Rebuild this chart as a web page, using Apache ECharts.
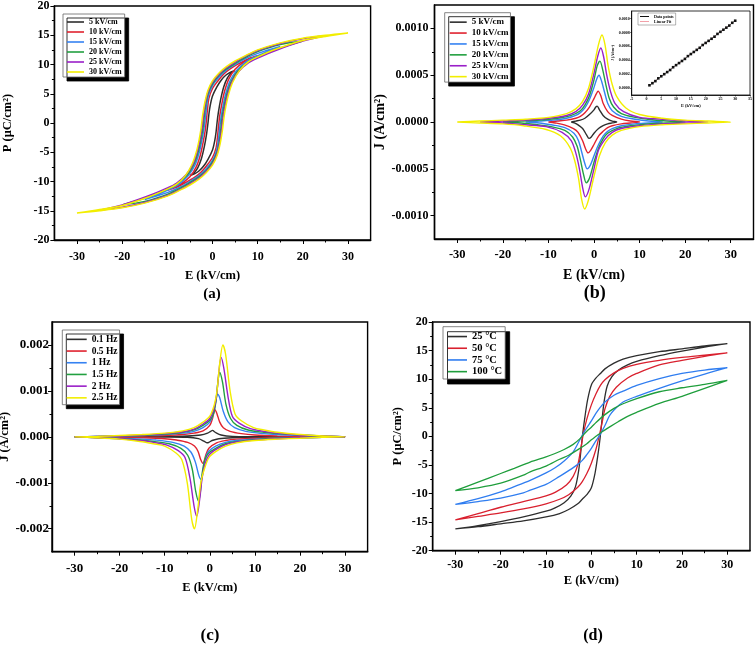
<!DOCTYPE html>
<html><head><meta charset="utf-8">
<script src="https://cdn.jsdelivr.net/npm/echarts@6/dist/echarts.min.js"></script>
<style>html,body{margin:0;padding:0;background:#fff}#c{width:756px;height:645px}</style>
</head><body><div id="c"></div>
<script>
// ---------------- DATA ----------------
// Panel (a): P-E loops, field amplitude
const namesA = ['5 kV/cm','10 kV/cm','15 kV/cm','20 kV/cm','25 kV/cm','30 kV/cm'];
const loopA5 = [[5,9.0],[4,8.7],[3,8.2],[2,7.4],[1,6.2],[0,4.6],[-0.5,3.0],[-0.8,1.5],[-1.0,0],[-1.3,-1.8],[-1.8,-4],[-2.5,-6.2],[-3.3,-7.7],[-4.1,-8.5],[-5,-9.0],
  [-4,-8.7],[-3,-8.2],[-2,-7.4],[-1,-6.2],[0,-4.6],[0.5,-3.0],[0.8,-1.5],[1.0,0],[1.3,1.8],[1.8,4],[2.5,6.2],[3.3,7.7],[4.1,8.5],[5,9.0]];
const loopA10 = [[10,11.5],[8,11.0],[6,10.2],[4,9.3],[2.5,8.4],[1,7.0],[0,5.9],[-0.8,4.2],[-1.1,2.4],[-1.35,0.5],[-1.6,-1.2],[-2.1,-3.4],[-2.7,-5.5],[-3.6,-7.5],[-5,-9.2],[-7,-10.4],[-10,-11.5],
  [-8,-11.0],[-6,-10.2],[-4,-9.3],[-2.5,-8.4],[-1,-7.0],[0,-5.9],[0.8,-4.2],[1.1,-2.4],[1.35,-0.5],[1.6,1.2],[2.1,3.4],[2.7,5.5],[3.6,7.5],[5,9.2],[7,10.4],[10,11.5]];
const loopA15 = [[15,13.1],[10,11.9],[7,10.9],[5,10.0],[3,9.0],[1.5,7.9],[0,6.4],[-0.9,4.7],[-1.3,2.9],[-1.6,0.8],[-1.9,-1],[-2.4,-3.2],[-3,-5.2],[-3.9,-7.2],[-5.4,-9],[-7.5,-10.5],[-10,-11.5],[-15,-13.1],
  [-10,-11.9],[-7,-10.9],[-5,-10.0],[-3,-9.0],[-1.5,-7.9],[0,-6.4],[0.9,-4.7],[1.3,-2.9],[1.6,-0.8],[1.9,1],[2.4,3.2],[3,5.2],[3.9,7.2],[5.4,9],[7.5,10.5],[10,11.5],[15,13.1]];
const loopA20 = [[20,14.0],[15,13.4],[10,12.2],[7,11.1],[5,10.2],[3,9.2],[1.5,8.2],[0,6.7],[-1,5.0],[-1.5,3.1],[-1.85,1.0],[-2.1,-0.8],[-2.6,-3],[-3.2,-5],[-4.1,-7],[-5.6,-8.9],[-8,-10.5],[-10,-11.3],[-14,-12.6],[-20,-14.0],
  [-15,-13.4],[-10,-12.2],[-7,-11.1],[-5,-10.2],[-3,-9.2],[-1.5,-8.2],[0,-6.7],[1,-5.0],[1.5,-3.1],[1.85,-1.0],[2.1,0.8],[2.6,3],[3.2,5],[4.1,7],[5.6,8.9],[8,10.5],[10,11.3],[14,12.6],[20,14.0]];
const loopA25 = [[25,14.9],[20,14.4],[15,13.6],[10,12.4],[7,11.3],[5,10.4],[3,9.4],[1.5,8.4],[0,7.0],[-1,5.3],[-1.6,3.3],[-2.0,1.2],[-2.3,-0.8],[-2.8,-3],[-3.4,-5],[-4.3,-7],[-5.8,-8.8],[-8,-10.3],[-10,-11.1],[-14,-12.4],[-20,-14.0],[-25,-14.9],
  [-20,-14.4],[-15,-13.6],[-10,-12.4],[-7,-11.3],[-5,-10.4],[-3,-9.4],[-1.5,-8.4],[0,-7.0],[1,-5.3],[1.6,-3.3],[2.0,-1.2],[2.3,0.8],[2.8,3],[3.4,5],[4.3,7],[5.8,8.8],[8,10.3],[10,11.1],[14,12.4],[20,14.0],[25,14.9]];
const loopA30 = [[30,15.4],[25,15.0],[20,14.5],[15,13.7],[10,12.5],[7,11.4],[5,10.6],[3,9.6],[1.5,8.6],[0,7.2],[-1,5.6],[-1.7,3.5],[-2.2,1.2],[-2.55,-1],[-3,-3],[-3.6,-5],[-4.5,-7],[-6,-9.0],[-8,-10.5],[-10,-11.3],[-14,-12.6],[-20,-14.1],[-25,-14.8],[-30,-15.4],
  [-25,-15.0],[-20,-14.5],[-15,-13.7],[-10,-12.5],[-7,-11.4],[-5,-10.6],[-3,-9.6],[-1.5,-8.6],[0,-7.2],[1,-5.6],[1.7,-3.5],[2.2,-1.2],[2.55,1],[3,3],[3.6,5],[4.5,7],[6,9.0],[8,10.5],[10,11.3],[14,12.6],[20,14.1],[25,14.8],[30,15.4]];

// Panel (b): J-E loops, field amplitude
const namesB = namesA;
const loopB5 = [[-5,0],[-4,0.00001],[-3,0.00002],[-2,0.00004],[-1,0.00008],[0,0.00013],[0.4,0.00016],[0.7,0.00017],[1.2,0.00013],[2,0.00007],[3,0.00003],[4,0.00001],[5,0],
  [4,-0.00001],[3,-0.00002],[2,-0.00004],[1,-0.00007],[0,-0.00012],[-0.6,-0.00016],[-1.1,-0.000175],[-1.6,-0.00014],[-2.5,-0.00007],[-3.5,-0.00003],[-4.3,-0.00001],[-5,0]];
const loopB10 = [[-10,0],[-8,0.00001],[-6,0.00002],[-4,0.00004],[-3,0.00006],[-2,0.0001],[-1,0.00016],[0,0.00025],[0.5,0.0003],[0.9,0.00033],[1.5,0.00028],[2,0.0002],[3,0.00011],[4,0.00007],[6,0.00003],[8,0.00001],[10,0],
  [8,-0.00001],[6,-0.00002],[4,-0.00004],[3,-0.00006],[2,-0.0001],[1,-0.00015],[0,-0.00024],[-0.7,-0.0003],[-1.3,-0.00033],[-1.9,-0.00028],[-2.5,-0.0002],[-3.5,-0.00011],[-4.5,-0.00007],[-6.5,-0.00003],[-8.5,-0.00001],[-10,0]];
const loopB15 = [[-15,0],[-12,0.00001],[-9,0.00002],[-6,0.00004],[-4,0.00007],[-3,0.0001],[-2,0.00015],[-1,0.00024],[0,0.00037],[0.6,0.00046],[1.1,0.0005],[1.7,0.00043],[2.3,0.00032],[3,0.0002],[4,0.00012],[6,0.00006],[9,0.00003],[12,0.00001],[15,0],
  [12,-0.00001],[9,-0.00002],[6,-0.00004],[4,-0.00007],[3,-0.0001],[2,-0.00015],[1,-0.00024],[0,-0.00036],[-0.8,-0.00046],[-1.5,-0.0005],[-2.1,-0.00043],[-2.7,-0.00032],[-3.4,-0.0002],[-4.4,-0.00012],[-6.4,-0.00006],[-9.4,-0.00003],[-12,-0.00001],[-15,0]];
const loopB20 = [[-20,0],[-16,0.00001],[-12,0.00002],[-8,0.00004],[-5,0.00007],[-3,0.00012],[-2,0.00018],[-1,0.00028],[0,0.00045],[0.7,0.0006],[1.3,0.00065],[1.9,0.00056],[2.6,0.0004],[3.3,0.00026],[4.3,0.00016],[6,0.00009],[9,0.00005],[12,0.00003],[16,0.00001],[20,0],
  [16,-0.00001],[12,-0.00002],[8,-0.00004],[5,-0.00007],[3,-0.00012],[2,-0.00018],[1,-0.00028],[0,-0.00043],[-1,-0.0006],[-1.7,-0.00065],[-2.3,-0.00056],[-3,-0.0004],[-3.7,-0.00026],[-4.7,-0.00016],[-6.4,-0.00009],[-9.4,-0.00005],[-12.4,-0.00003],[-16,-0.00001],[-20,0]];
const loopB25 = [[-25,0],[-20,0.00001],[-15,0.00002],[-10,0.00004],[-6,0.00007],[-4,0.00011],[-2.5,0.00018],[-1.2,0.0003],[0,0.00052],[0.8,0.0007],[1.5,0.00079],[2.1,0.0007],[2.8,0.0005],[3.6,0.00033],[4.6,0.0002],[6.5,0.00011],[10,0.00005],[15,0.00003],[20,0.00001],[25,0],
  [20,-0.00001],[15,-0.00002],[10,-0.00004],[6,-0.00007],[4,-0.00011],[2.5,-0.00018],[1,-0.0003],[0,-0.0005],[-1.1,-0.00072],[-1.9,-0.0008],[-2.5,-0.0007],[-3.2,-0.0005],[-4,-0.00033],[-5,-0.0002],[-7,-0.00011],[-10.5,-0.00005],[-15,-0.00003],[-20,-0.00001],[-25,0]];
const loopB30 = [[-30,0],[-25,0.00001],[-20,0.00002],[-15,0.00003],[-10,0.00005],[-6,0.00009],[-4,0.00014],[-2.5,0.00022],[-1.2,0.00036],[0,0.0006],[1,0.00083],[1.75,0.00093],[2.4,0.00083],[3.1,0.0006],[4,0.0004],[5,0.00027],[7,0.00015],[10,0.00008],[15,0.00004],[20,0.00002],[25,0.00001],[30,0],
  [25,-0.00001],[20,-0.00002],[15,-0.00003],[10,-0.00005],[6,-0.00009],[4,-0.00014],[2.5,-0.00022],[1.2,-0.00036],[0,-0.00058],[-1.2,-0.00083],[-2.05,-0.00093],[-2.7,-0.00083],[-3.4,-0.0006],[-4.3,-0.0004],[-5.3,-0.00027],[-7.3,-0.00015],[-10.5,-0.00008],[-15.5,-0.00004],[-20,-0.00002],[-25,-0.00001],[-30,0]];

// Inset of (b): peak current density vs field
const insetE = [1,2,3,4,5,6,7,8,9,10,11,12,13,14,15,16,17,18,19,20,21,22,23,24,25,26,27,28,29,30];
const insetJ = [0.00004,0.00007,0.00010,0.00014,0.00017,0.00020,0.00023,0.00026,0.00030,0.00033,0.00036,0.00039,0.00042,0.00046,0.00049,0.00052,0.00055,0.00058,0.00062,0.00065,0.00068,0.00071,0.00074,0.00078,0.00081,0.00084,0.00087,0.00090,0.00094,0.00097];
const insetFit = [[1,0.00004],[30,0.00097]];

// Panel (c): J-E loops, frequency
const namesC = ['0.1 Hz','0.5 Hz','1 Hz','1.5 Hz','2 Hz','2.5 Hz'];
const loopC01 = [[-30,0],[-20,0.000005],[-10,0.00001],[-5,0.00002],[-2,0.00004],[-0.5,0.00008],[0.2,0.00012],[0.6,0.00014],[1.2,0.0001],[2.5,0.00004],[5,0.00001],[10,0.000005],[20,0],[30,0],
  [20,-0.000005],[10,-0.00001],[5,-0.00002],[2,-0.00004],[0.5,-0.00008],[-0.2,-0.00012],[-0.6,-0.00013],[-1.2,-0.0001],[-2.5,-0.00004],[-5,-0.00001],[-10,-0.000005],[-20,0],[-30,0]];
const loopC05 = [[-30,0],[-20,0.00001],[-15,0.00002],[-10,0.00003],[-6,0.00005],[-3.5,0.00008],[-1.5,0.00013],[0,0.00025],[0.6,0.0004],[1.15,0.00059],[1.6,0.0005],[2.2,0.00032],[3,0.0002],[4.5,0.00012],[7,0.00007],[10,0.00004],[15,0.00002],[20,0.00001],[30,0],
  [20,-0.00001],[15,-0.00002],[10,-0.00003],[6,-0.00005],[3.5,-0.00008],[1.5,-0.00013],[-0.2,-0.00025],[-0.9,-0.0004],[-1.5,-0.00058],[-2,-0.0005],[-2.6,-0.00032],[-3.4,-0.0002],[-4.9,-0.00012],[-7.4,-0.00007],[-10,-0.00004],[-15,-0.00002],[-20,-0.00001],[-30,0]];
const loopC1 = [[-30,0],[-25,0.00001],[-20,0.00002],[-15,0.00003],[-10,0.00005],[-6,0.00008],[-3.5,0.00012],[-1.5,0.0002],[0,0.00032],[0.8,0.0005],[1.3,0.00075],[1.7,0.00093],[2.2,0.00085],[3,0.00055],[4,0.00033],[5.5,0.0002],[8,0.00012],[12,0.00007],[15,0.00005],[20,0.00003],[25,0.00001],[30,0],
  [25,-0.00001],[20,-0.00002],[15,-0.00003],[10,-0.00005],[6,-0.00008],[3.5,-0.00012],[1.3,-0.0002],[-0.3,-0.00032],[-1.1,-0.0005],[-1.5,-0.00075],[-1.9,-0.00093],[-2.4,-0.00085],[-3.2,-0.00055],[-4.2,-0.00033],[-5.7,-0.0002],[-8.2,-0.00012],[-12,-0.00007],[-15,-0.00005],[-20,-0.00003],[-25,-0.00001],[-30,0]];
const loopC15 = [[-30,0],[-25,0.00001],[-20,0.00002],[-15,0.00003],[-10,0.00006],[-6,0.0001],[-3.5,0.00015],[-1.5,0.00025],[0,0.00036],[0.8,0.0005],[1.4,0.0008],[1.8,0.0012],[2.2,0.0014],[2.8,0.0012],[3.6,0.0007],[4.6,0.0004],[6,0.00025],[8.5,0.00015],[12,0.0001],[15,0.00007],[20,0.00004],[25,0.00002],[30,0],
  [25,-0.00001],[20,-0.00002],[15,-0.00003],[10,-0.00006],[6,-0.0001],[3.5,-0.00015],[1.3,-0.00025],[-0.3,-0.00036],[-1.1,-0.0005],[-1.7,-0.0008],[-2.1,-0.0012],[-2.5,-0.0014],[-3.1,-0.0012],[-3.9,-0.0007],[-4.9,-0.0004],[-6.4,-0.00025],[-9,-0.00015],[-12.5,-0.0001],[-15.5,-0.00007],[-20,-0.00004],[-25,-0.00002],[-30,0]];
const loopC2 = [[-30,0],[-25,0.00001],[-20,0.00002],[-15,0.00004],[-10,0.00007],[-6,0.00011],[-3.5,0.00017],[-1.5,0.00028],[0,0.0004],[0.9,0.0006],[1.5,0.0009],[2,0.0014],[2.5,0.00173],[3.1,0.0015],[4,0.0009],[5,0.00045],[6.5,0.0003],[9,0.00018],[12,0.00012],[15,0.00008],[20,0.00004],[25,0.00002],[30,0],
  [25,-0.00001],[20,-0.00002],[15,-0.00004],[10,-0.00007],[6,-0.00011],[3.5,-0.00017],[1.3,-0.00028],[-0.2,-0.0004],[-1.1,-0.0006],[-1.7,-0.0009],[-2.3,-0.0014],[-2.9,-0.00173],[-3.5,-0.0015],[-4.4,-0.0009],[-5.5,-0.00045],[-7,-0.0003],[-9.5,-0.00018],[-12.5,-0.00012],[-15.5,-0.00008],[-20,-0.00004],[-25,-0.00002],[-30,0]];
const loopC25 = [[-30,0],[-25,0.00001],[-20,0.00003],[-15,0.00005],[-10,0.00008],[-6,0.00013],[-3.5,0.0002],[-1.5,0.00032],[0,0.00045],[1,0.0007],[1.6,0.001],[2.2,0.0016],[2.9,0.002],[3.5,0.0018],[4.5,0.001],[5.6,0.0005],[7,0.00035],[9.7,0.0002],[12,0.00015],[15,0.0001],[20,0.00005],[25,0.00002],[30,0],
  [25,-0.00001],[20,-0.00003],[15,-0.00005],[10,-0.00008],[6,-0.00013],[3.5,-0.0002],[1.3,-0.00032],[-0.2,-0.00045],[-1.2,-0.0007],[-2,-0.001],[-2.7,-0.0016],[-3.4,-0.002],[-4,-0.0018],[-5,-0.001],[-6.2,-0.0005],[-7.5,-0.00035],[-10,-0.0002],[-12.5,-0.00015],[-15.5,-0.0001],[-20,-0.00005],[-25,-0.00002],[-30,0]];

// Panel (d): P-E loops, temperature
const namesD = ['25 °C','50 °C','75 °C','100 °C'];
const loopD25 = [[30,16.2],[25,15.8],[20,15.3],[15,14.8],[10,14.1],[7,13.5],[5,12.8],[3,11.8],[2,11.0],[1,10.2],[0,9.0],[-0.8,6.5],[-1.4,3.5],[-1.9,0.5],[-2.3,-2.5],[-2.8,-6],[-3.5,-8.8],[-4.5,-10.4],[-6,-11.6],[-8,-12.5],[-10,-13.1],[-15,-14.1],[-20,-14.9],[-25,-15.6],[-30,-16.2],
  [-25,-15.8],[-20,-15.3],[-15,-14.8],[-10,-14.1],[-7,-13.5],[-5,-12.8],[-3,-11.8],[-2,-11.0],[-1,-10.2],[0,-9.0],[0.8,-6.5],[1.4,-3.5],[1.9,-0.5],[2.3,2.5],[2.8,6],[3.5,8.8],[4.5,10.4],[6,11.6],[8,12.5],[10,13.1],[15,14.1],[20,14.9],[25,15.6],[30,16.2]];
const loopD50 = [[30,14.6],[25,14.2],[20,13.8],[15,13.3],[10,12.6],[7,11.9],[5,11.1],[3,9.9],[2,8.9],[1,7.4],[0,5.5],[-1,3.0],[-1.8,0.3],[-2.4,-2.5],[-3,-5],[-4,-7],[-5.5,-8.5],[-8,-9.8],[-10,-10.4],[-15,-11.4],[-20,-12.4],[-25,-13.5],[-30,-14.6],
  [-25,-14.0],[-20,-13.4],[-15,-12.7],[-10,-11.8],[-7,-11.0],[-5,-10.2],[-3,-8.9],[-2,-7.9],[-1,-6.5],[0,-4.7],[1,-2.3],[1.8,0.3],[2.4,2.5],[3,4.8],[4,6.9],[5.5,8.6],[8,10.2],[10,11.0],[15,12.5],[20,13.3],[25,14.0],[30,14.6]];
const loopD75 = [[30,12.0],[25,11.6],[20,11.0],[15,10.1],[10,8.9],[7,7.9],[5,7.2],[3,6.0],[2,5.1],[1,4.0],[0,2.7],[-1,1.5],[-2,0.2],[-3,-1.3],[-4,-2.7],[-6,-4.3],[-8,-5.5],[-10,-6.4],[-13.5,-7.7],[-17,-8.8],[-20,-9.7],[-25,-10.9],[-30,-11.9],
  [-25,-11.4],[-20,-10.8],[-15,-9.9],[-13.5,-9.4],[-10,-8.4],[-7,-7.0],[-5,-6.0],[-3,-4.9],[-2,-4.2],[-1,-3.2],[0,-2.1],[1,-0.8],[2,0.4],[3,1.9],[4,3.6],[5,4.6],[7,6.0],[10,7.0],[15,8.4],[20,9.7],[25,10.9],[30,12.0]];
const loopD100 = [[30,9.8],[25,9.1],[20,8.5],[15,7.8],[10,6.6],[7,5.7],[5,4.9],[3,3.8],[1,2.4],[0,1.6],[-1,0.9],[-2.5,-0.4],[-4,-1.4],[-6,-2.3],[-8,-3.0],[-10,-3.6],[-13.5,-4.5],[-17,-5.6],[-20,-6.5],[-25,-8.0],[-30,-9.5],
  [-25,-9.0],[-20,-8.2],[-15,-6.8],[-13.5,-6.2],[-10,-5.2],[-7,-4.0],[-5,-3.3],[-2.5,-2.1],[-1,-1.3],[0,-0.6],[1,0],[2,0.6],[4.15,1.7],[6,2.6],[8,3.5],[10,4.2],[15,5.75],[20,7.0],[25,8.4],[30,9.8]];

// Tick values
const eTicks = [-30,-20,-10,0,10,20,30];
const eMinor = [-25,-15,-5,5,15,25];
const pTicks = [-20,-15,-10,-5,0,5,10,15,20];
const pMinor = [-17.5,-12.5,-7.5,-2.5,2.5,7.5,12.5,17.5];
const jbTicks = [-0.001,-0.0005,0,0.0005,0.001];
const jbMinor = [-0.00075,-0.00025,0.00025,0.00075];
const jcTicks = [-0.002,-0.001,0,0.001,0.002];
const jcMinor = [-0.0015,-0.0005,0.0005,0.0015];
const inEticks = [-5,0,5,10,15,20,25,30,35];
const inJticks = [0,0.0002,0.0004,0.0006,0.0008,0.001];

// ---------------- STYLE / BUILD ----------------
const FONT = '"Liberation Serif","Times New Roman",serif';
const COL = {k:'#2e2e2e', r:'#e0222f', b:'#3582f2', g:'#22a040', p:'#9a1fc8', y:'#f2ee00'};
const colors6 = [COL.k, COL.r, COL.b, COL.g, COL.p, COL.y];
const colorsD = [COL.k, '#d9202e', '#2f7df0', '#1f9e3c'];

function txt(size, extra) { return Object.assign({fontFamily:FONT, fontWeight:'bold', fontSize:size, color:'#000'}, extra||{}); }

function axisPair(dim, gi, o) {
  const main = {
    type:'value', gridIndex:gi, min:o.min, max:o.max, position: dim==='x'?'bottom':'left',
    axisLine:{show:true, onZero:false, lineStyle:{color:'#000', width:o.lw||1.4}},
    axisTick:{show:true, inside:false, length:o.tl||4, customValues:o.major, lineStyle:{color:'#000', width:o.tw||1}},
    axisLabel:{show:true, customValues:o.major, margin:o.margin, formatter:o.fmt, fontFamily:FONT, fontWeight:'bold', fontSize:o.fs, color:'#000'},
    splitLine:{show:false}, minorTick:{show:false},
    name:o.name, nameLocation:'middle', nameGap:o.nameGap, nameTextStyle:txt(o.nfs),
    nameRotate: dim==='y'?90:0
  };
  const minor = {
    type:'value', gridIndex:gi, min:o.min, max:o.max, position: dim==='x'?'bottom':'left',
    axisLine:{show:false, onZero:false},
    axisTick:{show:!!o.minor, inside:false, length:o.tl2||2.5, customValues:o.minor||[], lineStyle:{color:'#000', width:o.tw||1}},
    axisLabel:{show:false}, splitLine:{show:false}
  };
  return [main, minor];
}

const intFmt = v => String(v);
const f4 = v => (Math.abs(v)<1e-12?0:v).toFixed(4);
const f3 = v => (Math.abs(v)<1e-12?0:v).toFixed(3);

const grids = [
  {left:54.4, top:6, width:316.2, height:234},
  {left:434.5, top:5, width:319, height:234},
  {left:52, top:322, width:315.6, height:229.7},
  {left:432.7, top:322, width:317.3, height:228.7},
  {left:631.7, top:11, width:118.3, height:84}
].map(g => Object.assign({show:true, borderColor:'#000', borderWidth:1.4, backgroundColor:'rgba(0,0,0,0)', containLabel:false, outerBoundsMode:'none'}, g));
grids[4].backgroundColor = '#fff';
grids[4].borderWidth = 0.8;

const xAxes = [].concat(
  axisPair('x',0,{min:-35,max:35,major:eTicks,minor:eMinor,fmt:intFmt,fs:12,margin:11,name:'E (kV/cm)',nameGap:29,nfs:12.5}),
  axisPair('x',1,{min:-35,max:35,major:eTicks,minor:eMinor,fmt:intFmt,fs:12.5,margin:9,name:'E (kV/cm)',nameGap:29,nfs:14}),
  axisPair('x',2,{min:-35,max:35,major:eTicks,minor:eMinor,fmt:intFmt,fs:13,margin:10,name:'E (kV/cm)',nameGap:30,nfs:12.5}),
  axisPair('x',3,{min:-35,max:35,major:eTicks,minor:eMinor,fmt:intFmt,fs:12,margin:8,name:'E (kV/cm)',nameGap:24,nfs:12.5}),
  axisPair('x',4,{min:-5,max:35,major:inEticks,fmt:intFmt,fs:4,margin:2,tl:1.5,lw:0.8,tw:0.6,name:'E (kV/cm)',nameGap:8,nfs:4.5})
);
const yAxes = [].concat(
  axisPair('y',0,{min:-20,max:20,major:pTicks,minor:pMinor,fmt:intFmt,fs:12,margin:5,name:'P (μC/cm²)',nameGap:40,nfs:12.5}),
  axisPair('y',1,{min:-0.00125,max:0.00125,major:jbTicks,minor:jbMinor,fmt:f4,fs:12,margin:6,name:'J (A/cm²)',nameGap:44,nfs:14}),
  axisPair('y',2,{min:-0.0025,max:0.0025,major:jcTicks,minor:jcMinor,fmt:f3,fs:13,margin:3,name:'J (A/cm²)',nameGap:40,nfs:12.5}),
  axisPair('y',3,{min:-20,max:20,major:pTicks,minor:pMinor,fmt:intFmt,fs:12,margin:5,name:'P (μC/cm²)',nameGap:28,nfs:12.5}),
  axisPair('y',4,{min:-0.0001,max:0.00111,major:inJticks,fmt:f4,fs:4,margin:2,tl:1.5,lw:0.8,tw:0.6,name:'J (A/cm²)',nameGap:15,nfs:4})
);

function loop(name, data, gi, color, w) {
  return {type:'line', name:name, data:data, xAxisIndex:2*gi, yAxisIndex:2*gi, symbol:'none', smooth:0.3,
    lineStyle:{color:color, width:w||1.4}, itemStyle:{color:color}, emphasis:{disabled:true}};
}

const series = [];
[loopA5,loopA10,loopA15,loopA20,loopA25,loopA30].forEach((d,i)=>series.push(loop(namesA[i], d, 0, colors6[i], 1.5)));
[loopB5,loopB10,loopB15,loopB20,loopB25,loopB30].forEach((d,i)=>series.push(loop(namesB[i], d, 1, colors6[i], 1.4)));
[loopC01,loopC05,loopC1,loopC15,loopC2,loopC25].forEach((d,i)=>series.push(loop(namesC[i], d, 2, colors6[i], 1.4)));
[loopD25,loopD50,loopD75,loopD100].forEach((d,i)=>series.push(loop(namesD[i], d, 3, colorsD[i], 1.3)));
series.push({type:'line', name:'Data points', data:insetE.map((e,i)=>[e, insetJ[i]]), xAxisIndex:8, yAxisIndex:8,
  symbol:'rect', symbolSize:2.6, lineStyle:{color:'#000', width:0.5}, itemStyle:{color:'#111'}, z:5});
series.push({type:'line', name:'Linear Fit', data:insetFit, xAxisIndex:8, yAxisIndex:8, symbol:'none',
  lineStyle:{color:'#f2a0a8', width:0.8, type:'dotted'}, itemStyle:{color:'#f2a0a8'}, z:4});

function legendBox(o, lh) {
  const b = Object.assign({orient:'vertical', backgroundColor:'#fff', borderColor:'#666', borderWidth:0.8,
    shadowColor:'rgba(0,0,0,1)', shadowBlur:0, shadowOffsetX:4, shadowOffsetY:4, selectedMode:false,
    icon:'rect', itemHeight:1.6, itemGap:0}, o);
  b.textStyle = Object.assign({}, b.textStyle, {lineHeight:lh, height:lh});
  return b;
}
const legends = [
  legendBox({data:namesA, left:63, top:14, itemWidth:17, padding:[3,3,0,4], textStyle:txt(8)}, 10),
  legendBox({data:namesB, left:444.7, top:12.7, itemWidth:17, padding:[4,2,0,5], textStyle:txt(9)}, 10.9),
  legendBox({data:namesC, left:62.3, top:330, itemWidth:20, padding:[3.5,2,1,4.4], textStyle:txt(9.5)}, 11.7),
  legendBox({data:namesD, left:443, top:326.7, itemWidth:19, padding:[4,3,1.5,5], textStyle:txt(10.5), shadowOffsetX:4.5, shadowOffsetY:5}, 11.7),
  legendBox({data:['Data points','Linear Fit'], left:638, top:13, itemWidth:9, itemHeight:1, padding:[1,2,1,2], textStyle:txt(4), borderWidth:0.5, shadowOffsetX:0, shadowOffsetY:0, shadowColor:'rgba(0,0,0,0)'}, 5)
];

const labels = [
  {t:'(a)', x:212, y:294, s:15},
  {t:'(b)', x:594.7, y:293, s:18},
  {t:'(c)', x:210, y:636, s:17},
  {t:'(d)', x:593, y:636, s:16}
];

const chart = echarts.init(document.getElementById('c'), null, {renderer:'canvas'});
chart.setOption({
  animation:false,
  backgroundColor:'#fff',
  grid: grids,
  xAxis: xAxes,
  yAxis: yAxes,
  legend: legends,
  series: series,
  graphic: labels.map(l => ({type:'text', x:l.x, y:l.y, style:{text:l.t, fontFamily:FONT, fontWeight:'bold', fontSize:l.s, fill:'#000', align:'center', verticalAlign:'middle'}}))
});
</script></body></html>
